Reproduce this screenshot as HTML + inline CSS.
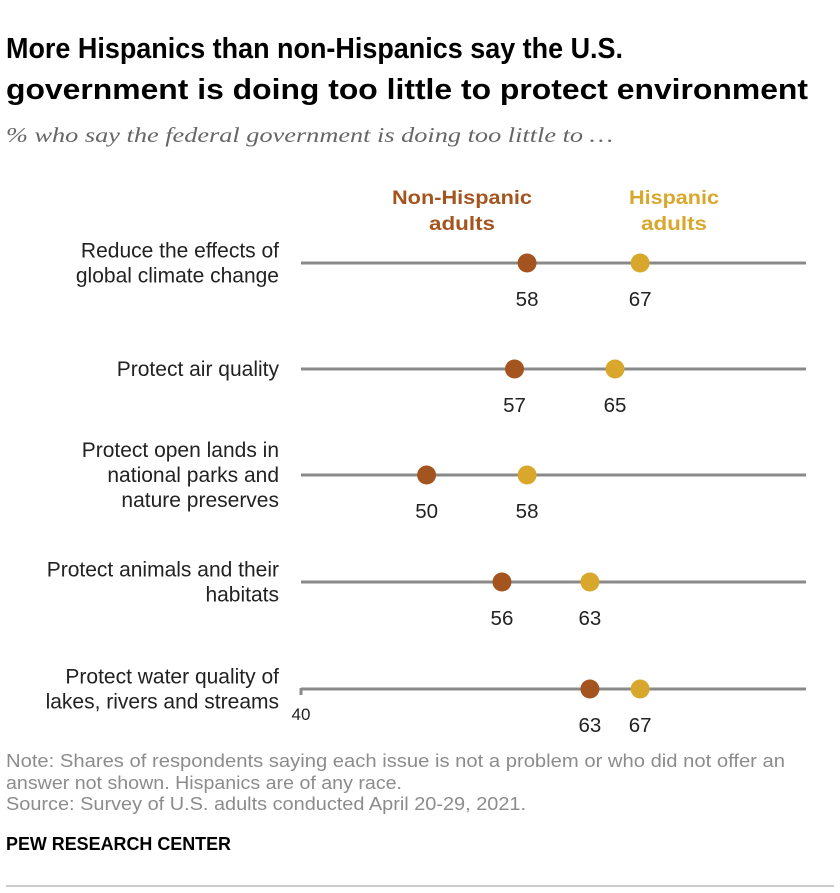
<!DOCTYPE html>
<html><head><meta charset="utf-8"><style>
body{margin:0;background:#fff;font-family:"Liberation Sans",sans-serif;}
#wrap{position:relative;width:840px;height:893px;overflow:hidden}
</style></head><body>
<div id="wrap">
<svg width="840" height="893">
<text x="6" y="58" font-size="29" font-weight="bold" fill="#000" textLength="617" lengthAdjust="spacingAndGlyphs">More Hispanics than non-Hispanics say the U.S.</text>
<text x="6" y="99" font-size="29" font-weight="bold" fill="#000" textLength="802" lengthAdjust="spacingAndGlyphs">government is doing too little to protect environment</text>
<text x="6" y="142" font-size="21" font-style="italic" fill="#666" font-family="Liberation Serif, serif" textLength="607" lengthAdjust="spacingAndGlyphs">% who say the federal government is doing too little to …</text>
<text font-size="19" font-weight="bold" fill="#a4541f" text-anchor="middle"><tspan x="462" y="204" textLength="140" lengthAdjust="spacingAndGlyphs">Non-Hispanic</tspan><tspan x="462" y="230" textLength="66" lengthAdjust="spacingAndGlyphs">adults</tspan></text>
<text font-size="19" font-weight="bold" fill="#d8a72c" text-anchor="middle"><tspan x="674" y="204" textLength="90" lengthAdjust="spacingAndGlyphs">Hispanic</tspan><tspan x="674" y="230" textLength="66" lengthAdjust="spacingAndGlyphs">adults</tspan></text>
<g id="rows"></g>
<text x="301" y="720" font-size="17" fill="#222" text-anchor="middle">40</text>
<text font-size="18" fill="#8c8c8c"><tspan x="6" y="767" textLength="779" lengthAdjust="spacingAndGlyphs">Note: Shares of respondents saying each issue is not a problem or who did not offer an</tspan><tspan x="6" y="789" textLength="396" lengthAdjust="spacingAndGlyphs">answer not shown. Hispanics are of any race.</tspan></text>
<text x="6" y="810" font-size="18" fill="#8c8c8c" textLength="520" lengthAdjust="spacingAndGlyphs">Source: Survey of U.S. adults conducted April 20-29, 2021.</text>
<text x="6" y="850" font-size="18" font-weight="bold" fill="#000" textLength="225" lengthAdjust="spacingAndGlyphs">PEW RESEARCH CENTER</text>
<line x1="6" y1="886" x2="834" y2="886" stroke="#999" stroke-width="1"/>
</svg>
</div>
<script>
const categories=[["Reduce the effects of","global climate change"],["Protect air quality"],["Protect open lands in","national parks and","nature preserves"],["Protect animals and their","habitats"],["Protect water quality of","lakes, rivers and streams"]];
const nonHispanic=[58,57,50,56,63];
const hispanic=[67,65,58,63,67];
const rowY=[263,369,475,582,689];
const x=v=>301+(v-40)*12.56;
const g=document.getElementById('rows');
const NS='http://www.w3.org/2000/svg';
function mk(t,a){const e=document.createElementNS(NS,t);for(const k in a)e.setAttribute(k,a[k]);g.appendChild(e);return e;}
categories.forEach((c,i)=>{
 const y=rowY[i];
 const ln=mk('line',{x1:301,y1:y,x2:806,y2:y,stroke:'#8a8a8a','stroke-width':3});
 
 
 if(i===categories.length-1){const tk=mk('line',{x1:301,y1:y-1,x2:301,y2:y+6,stroke:'#8a8a8a','stroke-width':3});
 
 }
 const t=mk('text',{'font-size':21,fill:'#222','text-anchor':'end'});
 
 
 const n=c.length, y0=y+7-(n-1)*12.5;
 c.forEach((s,j)=>{const ts=document.createElementNS(NS,'tspan');ts.setAttribute('x',279);ts.setAttribute('y',y0+j*25);ts.textContent=s;t.appendChild(ts);});
 [[nonHispanic[i],'#a4541f','non-hispanic'],[hispanic[i],'#d8a72c','hispanic']].forEach(([v,col,nm])=>{
  const d=mk('circle',{cx:x(v),cy:y,r:9.5,fill:col});
  
  
  const l=mk('text',{x:x(v),y:y+43,'font-size':20.5,fill:'#222','text-anchor':'middle'});
  
  
  l.textContent=v;
 });
});
</script>
</body></html>
